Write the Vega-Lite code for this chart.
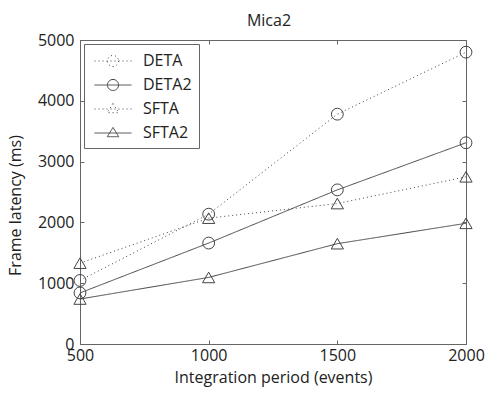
{
  "$schema": "https://vega.github.io/schema/vega-lite/v6.json",
  "width": 386,
  "height": 304,
  "autosize": {"type": "none"},
  "padding": {"left": 80, "top": 40, "right": 19, "bottom": 49},
  "background": "white",
  "title": {"text": "Mica2", "font": "Open Sans", "fontSize": 16, "fontWeight": "normal", "color": "#222", "offset": 3, "dx": -4},
  "config": {
    "view": {"stroke": "#666", "strokeWidth": 1},
    "axis": {"labelFont": "Open Sans", "titleFont": "Open Sans", "labelFontSize": 16, "titleFontSize": 16, "titleFontWeight": "normal", "labelColor": "#222", "titleColor": "#222", "domainColor": "#666", "tickColor": "#666", "grid": false, "format": "d"}
  },
  "data": {
    "values": [
      {"period": 500, "latency": 1045, "series": "DETA"},
      {"period": 1000, "latency": 2135, "series": "DETA"},
      {"period": 1500, "latency": 3780, "series": "DETA"},
      {"period": 2000, "latency": 4800, "series": "DETA"},
      {"period": 500, "latency": 840, "series": "DETA2"},
      {"period": 1000, "latency": 1660, "series": "DETA2"},
      {"period": 1500, "latency": 2535, "series": "DETA2"},
      {"period": 2000, "latency": 3310, "series": "DETA2"},
      {"period": 500, "latency": 1330, "series": "SFTA"},
      {"period": 1000, "latency": 2070, "series": "SFTA"},
      {"period": 1500, "latency": 2310, "series": "SFTA"},
      {"period": 2000, "latency": 2750, "series": "SFTA"},
      {"period": 500, "latency": 740, "series": "SFTA2"},
      {"period": 1000, "latency": 1095, "series": "SFTA2"},
      {"period": 1500, "latency": 1650, "series": "SFTA2"},
      {"period": 2000, "latency": 1985, "series": "SFTA2"}
    ]
  },
  "layer": [
    {
      "mark": {"type": "line", "color": "#444", "strokeWidth": 1},
      "encoding": {
        "x": {"field": "period", "type": "quantitative", "scale": {"domain": [500, 2000]},
          "axis": {"orient": "bottom", "values": [500, 1000, 1500, 2000], "title": "Integration period (events)", "tickSize": -4, "labelPadding": 7, "titlePadding": 6, "labelFlush": false}},
        "y": {"field": "latency", "type": "quantitative", "scale": {"domain": [0, 5000]},
          "axis": {"orient": "left", "values": [0, 1000, 2000, 3000, 4000, 5000], "title": "Frame latency (ms)", "tickSize": -4, "labelPadding": 10, "titleX": -65, "titleY": 165, "titleBaseline": "middle", "titleAlign": "center"}},
        "detail": {"field": "series"},
        "strokeDash": {"field": "series", "type": "nominal",
          "scale": {"domain": ["DETA", "DETA2", "SFTA", "SFTA2"], "range": [[1, 3], [1, 0], [1, 3], [1, 0]]},
          "legend": {
            "title": null, "orient": "top-left", "offset": 4, "padding": 7,
            "strokeColor": "#666", "fillColor": "white",
            "labelFont": "Open Sans", "labelFontSize": 16, "labelColor": "#222",
            "symbolSize": 342, "symbolStrokeWidth": 1, "symbolStrokeColor": "#444", "symbolFillColor": "transparent",
            "symbolOffset": 12, "rowPadding": 6, "labelOffset": 39,
            "encode": {
              "labels": {"update": {"dx": {"value": -19}}},
              "symbols": {
                "update": {
                  "shape": {"signal": "indexof(['DETA','DETA2'], datum.value) >= 0 ? 'M-2,0H2M0.6,0A0.6,0.6,0,1,1,-0.6,0A0.6,0.6,0,1,1,0.6,0' : 'M-2,0H2M0,-0.6L0.62,0.4L-0.62,0.4Z'"},
                  "fill": {"value": "transparent"},
                  "stroke": {"value": "#444"}
                }
              }
            }
          }}
      }
    },
    {
      "transform": [{"filter": "indexof(['DETA','DETA2'], datum.series) >= 0"}],
      "mark": {"type": "point", "shape": "circle", "filled": false, "color": "#444", "strokeWidth": 1, "opacity": 1, "size": 140},
      "encoding": {
        "x": {"field": "period", "type": "quantitative", "scale": {"domain": [500, 2000]},
          "axis": {"orient": "top", "values": [500, 1000, 1500, 2000], "labels": false, "title": null, "tickSize": -4, "domain": false}},
        "y": {"field": "latency", "type": "quantitative", "scale": {"domain": [0, 5000]},
          "axis": {"orient": "right", "values": [0, 1000, 2000, 3000, 4000, 5000], "labels": false, "title": null, "tickSize": -4, "domain": false}}
      }
    },
    {
      "transform": [{"filter": "indexof(['SFTA','SFTA2'], datum.series) >= 0"}],
      "mark": {"type": "point", "shape": "triangle-up", "filled": false, "color": "#444", "strokeWidth": 1, "opacity": 1, "size": 150},
      "encoding": {
        "x": {"field": "period", "type": "quantitative", "scale": {"domain": [500, 2000]}, "axis": null},
        "y": {"field": "latency", "type": "quantitative", "scale": {"domain": [0, 5000]}, "axis": null}
      }
    }
  ],
  "resolve": {"axis": {"x": "independent", "y": "independent"}}
}
